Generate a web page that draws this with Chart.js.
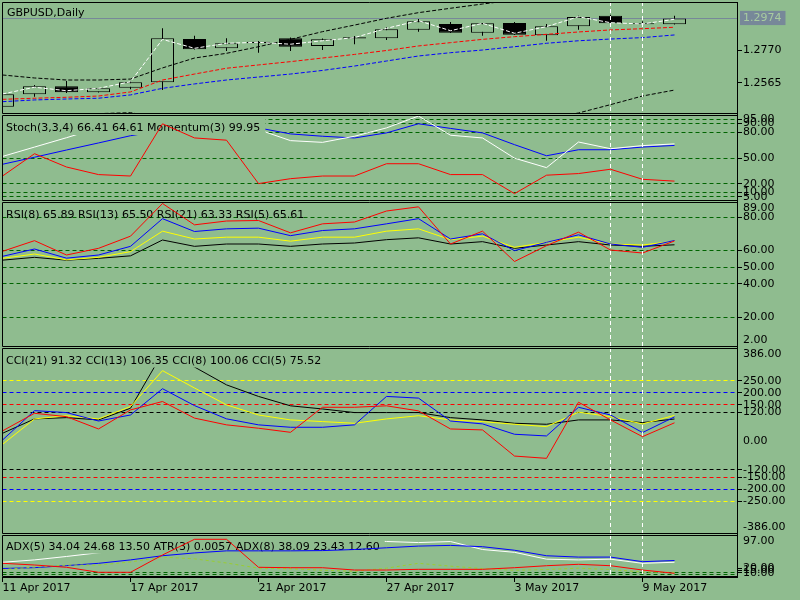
<!DOCTYPE html>
<html><head><meta charset="utf-8">
<script src="https://cdn.jsdelivr.net/npm/chart.js@4.4.1/dist/chart.umd.min.js"></script>
<style>
html,body{margin:0;padding:0;background:#8FBC8F;width:800px;height:600px;overflow:hidden}
canvas{position:absolute;left:0}
</style></head><body>
<canvas id="c0" width="800" height="134" style="top:-10px"></canvas>
<canvas id="c1" width="800" height="106" style="top:105px"></canvas>
<canvas id="c2" width="800" height="165" style="top:192px"></canvas>
<canvas id="c3" width="800" height="206" style="top:338px"></canvas>
<canvas id="c4" width="800" height="75" style="top:525px"></canvas>
<script>
// ---------------- data ----------------
const dates = ['11 Apr 2017','12 Apr 2017','13 Apr 2017','14 Apr 2017','17 Apr 2017','18 Apr 2017','19 Apr 2017','20 Apr 2017','21 Apr 2017','24 Apr 2017','25 Apr 2017','26 Apr 2017','27 Apr 2017','28 Apr 2017','1 May 2017','2 May 2017','3 May 2017','4 May 2017','5 May 2017','8 May 2017','9 May 2017','10 May 2017'];
const xLabelIdx = [0, 4, 8, 12, 16, 20];
const markerIdx = [19, 20];

const opens  = [1.2412,1.2491,1.2542,1.2504,1.2533,1.2567,1.2843,1.2784,1.2826,1.2848,1.2799,1.2855,1.2848,1.2902,1.2939,1.2883,1.2945,1.2867,1.2924,1.2992,1.2943,1.2937];
const highs  = [1.2495,1.2550,1.2576,1.2531,1.2576,1.2911,1.2864,1.2848,1.2831,1.2852,1.2846,1.2862,1.2918,1.2971,1.2952,1.2945,1.2952,1.2939,1.2992,1.2998,1.2956,1.2992];
const lows   = [1.2405,1.2476,1.2499,1.2502,1.2523,1.2518,1.2776,1.2767,1.2756,1.2767,1.2773,1.2809,1.2837,1.2890,1.2881,1.2864,1.2868,1.2832,1.2902,1.2941,1.2926,1.2935];
const closes = [1.2491,1.2542,1.2504,1.2529,1.2567,1.2848,1.2778,1.2816,1.2816,1.2794,1.2841,1.2847,1.2905,1.2956,1.2883,1.2943,1.2871,1.2924,1.2983,1.2943,1.2937,1.2974];

const fastLine  = [1.2493,1.2536,1.2514,1.2529,1.2571,1.2841,1.2784,1.2816,1.2822,1.2810,1.2832,1.2852,1.2911,1.2960,1.2896,1.2943,1.2880,1.2922,1.2985,1.2947,1.2939,1.2969];
const maRed     = [1.2459,1.2466,1.2472,1.2480,1.2506,1.2582,1.2620,1.2657,1.2678,1.2699,1.2722,1.2745,1.2770,1.2799,1.2820,1.2841,1.2858,1.2873,1.2888,1.2901,1.2909,1.2918];
const maBlue    = [1.2444,1.2455,1.2461,1.2466,1.2487,1.2529,1.2557,1.2582,1.2601,1.2620,1.2643,1.2671,1.2703,1.2735,1.2756,1.2773,1.2794,1.2816,1.2832,1.2843,1.2852,1.2869];
const bandUpper = [1.2614,1.2595,1.2582,1.2582,1.2588,1.2659,1.2722,1.2752,1.2794,1.2841,1.2890,1.2932,1.2975,1.3011,1.3039,1.3066,1.3092,1.3108,1.3122,1.3133,1.3140,1.3146];
const bandLower = [1.2355,1.2360,1.2365,1.2368,1.2374,1.2340,1.2310,1.2290,1.2280,1.2270,1.2265,1.2262,1.2255,1.2250,1.2260,1.2280,1.2305,1.2338,1.2372,1.2425,1.2480,1.2518];
const priceTicks = [1.2770, 1.2565];

const stochMain   = [51.8,62.7,73.6,85,88,97,95,92,83,70.2,68.2,75.3,85,98.8,76.5,73.3,49.8,38.8,68.6,60.8,64.4,66.41];
const stochSignal = [42.7,50.9,59.3,67.5,75.9,82,88,90,85,78,75.3,73.3,79.2,89.8,84.4,79.2,65.5,52.6,59.6,59.6,62.7,64.61];
const momentum    = [100.20,101.29,100.64,100.27,100.20,102.75,102.06,101.95,99.83,100.07,100.20,100.20,100.80,100.80,100.27,100.27,99.34,100.24,100.32,100.53,100.04,99.95];
const stochLevels = [95, 90, 80, 50, 20, 10, 5];

const rsi5  = [59.4,65.8,57.2,61.2,68.5,88.1,75.3,77.6,77.9,70.5,75.9,77.0,83.6,86.1,63.8,71.5,53.3,62.8,70.9,60.2,58.4,65.61];
const rsi8  = [56.4,60.8,55.3,57.2,62.4,79.0,71.3,72.9,73.3,68.8,71.9,72.9,75.9,79.0,66.8,69.9,59.8,64.8,69.3,63.8,61.8,65.89];
const rsi13 = [55.2,57.8,54.3,55.8,59.2,71.5,66.8,67.9,67.9,65.5,67.9,67.9,71.5,72.9,66.4,68.5,61.8,64.8,67.9,63.8,63.2,65.50];
const rsi21 = [54.1,55.8,54.1,55.2,56.7,66.2,62.4,63.8,63.8,62.4,63.8,64.4,66.4,67.5,63.8,65.2,61.2,63.2,65.2,63.2,62.4,63.33];
const rsiLevels = [80, 60, 50, 40, 20];

const cci21 = [32,91.7,97,87.5,136,365,307,233,185,146,133,118,118,118,97,87.5,73.6,69.4,87.5,87.5,76.4,91.32];
const cci13 = [-14,91.7,105,91.7,143,292,220,150,108,87.5,80.6,73.6,91.7,105,87.5,80.6,69.4,59.7,119.6,101,70.8,106.35];
const cci8  = [4,126,118,83,108,217,147,92,67,57,57,67,185,178,83,71,28,21,140,108,35,100.06];
const cci5  = [42,115,101,50,129,164,95,67,53,36,140,140,146,125,50,46,-62.5,-72,161,87.5,18,75.52];
const cciLevels = [250, 200, 150, 120, -120, -150, -200, -250];

const adx5  = [34,39.5,47.4,56,62,72,84,92,97,95,91,86,82,79.5,81.9,63.5,57,41.2,39.5,41.2,31.6,34.04];
const adx8  = [19.6,21.6,26.3,31.6,39.5,49.1,55.6,60.4,60.4,60.4,61,63.5,67.5,71.4,73,70,61.8,49.1,46,46,35.4,38.09];
const adxDI = [17,23,27.5,27.5,34.7,46,42,32.3,20.4,19,15.6,13.2,20.4,31.6,25,19.6,15.6,17.2,20.4,17.2,11.5,10.8];
const atr3  = [0.00956,0.00890,0.00802,0.00609,0.00609,0.01276,0.01881,0.01881,0.00802,0.00786,0.00786,0.00697,0.00697,0.00724,0.00724,0.00724,0.00786,0.00863,0.00917,0.00863,0.00697,0.0057];
const adx5Di = [24.68, 13.50];
const adx8Di = [23.43, 12.60];
const adxTickLabels = [20, 15, 10];
const adxLevels = [11.5, 5.5];

// ---------------- style ----------------
const BG = '#8FBC8F', GREEN = '#006400';
const FONT_CSS = '11px "DejaVu Sans"';
const cciColor = {250: '#FFFF00', 200: '#0000FF', 150: '#FF0000', 120: '#000000'};
Chart.defaults.font.family = '"DejaVu Sans"';
Chart.defaults.font.size = 11;
Chart.defaults.color = '#000';
Chart.defaults.animation = false;
Chart.defaults.elements.point.radius = 0;
Chart.defaults.elements.point.hoverRadius = 0;
Chart.defaults.elements.line.borderWidth = 1;
Chart.defaults.elements.line.tension = 0;
Chart.defaults.plugins.legend.display = false;
Chart.defaults.plugins.tooltip.enabled = false;

const LEFT = 2.5, RIGHT = 737, SLOT = 32;
const XMAX = (RIGHT - LEFT) / SLOT;
const pts = arr => arr.map((v, i) => ({x: i, y: v}));
const last = a => a[a.length - 1];

function xAxis(show) {
  const ax = {
    type: 'linear', min: 0, max: XMAX, display: show, offset: false,
    afterBuildTicks: s => { s.ticks = xLabelIdx.map(v => ({value: v})); },
    ticks: {autoSkip: false, maxRotation: 0, minRotation: 0, align: 'start', padding: 0,
            callback: v => dates[v] || ''},
    grid: {offset: false, drawOnChartArea: false, drawTicks: true, tickLength: 5, tickColor: '#000', color: '#000'},
    border: {display: true, color: '#000', width: 1}
  };
  if (show) ax.afterFit = s => { s.height = 20; };
  return ax;
}
function levelAxis(specs, min, max, dashed) {
  const sp = i => specs[i] || {};
  return {
    type: 'linear', position: 'right', min, max,
    afterFit: s => { s.width = 800 - RIGHT; },
    afterBuildTicks: s => { s.ticks = specs.map(t => ({value: t.v})); },
    ticks: {
      autoSkip: false, padding: 1,
      callback: (v, i) => sp(i).text || '',
      color: c => sp(c.index).color || '#000',
      showLabelBackdrop: c => !!sp(c.index).box,
      backdropColor: '#778899',
      backdropPadding: {left: 3, right: 4, top: 1, bottom: 0}
    },
    grid: {
      color: c => sp(c.index).line || 'rgba(0,0,0,0)',
      tickColor: c => sp(c.index).mark ? '#000' : 'rgba(0,0,0,0)',
      tickLength: 5, lineWidth: 1, drawTicks: true
    },
    border: {color: '#000', width: 1, dash: dashed ? [4, 3] : []}
  };
}
function edgeSpecs(min, max, px, topText, bottomText) {
  const off = 6.5 * (max - min) / px, out = [];
  if (topText) out.push({v: max - off, text: topText});
  if (bottomText) out.push({v: min + off, text: bottomText});
  return out;
}
function panePlugin(p) {
  const drawLabel = chart => {
    const {ctx, chartArea: a} = chart;
    ctx.save();
    ctx.font = FONT_CSS;
    const ty = p.baseline - p.canvasTop;
    const w = ctx.measureText(p.text).width;
    if (p.box) {
      ctx.fillStyle = BG;
      ctx.fillRect(a.left, a.top, p.x + w + 5 - a.left, ty + 4 - a.top);
    }
    ctx.fillStyle = '#000';
    ctx.textBaseline = 'alphabetic';
    ctx.textAlign = 'left';
    ctx.fillText(p.text, p.x, ty);
    ctx.restore();
  };
  return {
    id: 'pane',
    beforeDatasetsDraw(chart) { if (p.mode === 'under') drawLabel(chart); },
    afterDatasetDraw(chart, args) { if (p.mode === 'after' && args.index === p.afterIndex) drawLabel(chart); },
    afterDatasetsDraw(chart) {
      if (p.mode === 'top') drawLabel(chart);
      const {ctx, chartArea: a, scales: {x}} = chart;
      ctx.save();
      ctx.beginPath(); ctx.rect(a.left, a.top, a.right - a.left, a.bottom - a.top); ctx.clip();
      ctx.strokeStyle = '#fff'; ctx.lineWidth = 1; ctx.setLineDash([4, 3]);
      markerIdx.forEach(i => {
        const px = Math.round(x.getPixelForValue(i) - 0.5) + 0.5;
        ctx.beginPath(); ctx.moveTo(px, a.top); ctx.lineTo(px, a.bottom); ctx.stroke();
      });
      ctx.restore();
    },
    afterDraw(chart) {
      const {ctx, chartArea: a} = chart;
      ctx.save(); ctx.strokeStyle = '#000'; ctx.lineWidth = 1; ctx.setLineDash([]);
      const L = Math.floor(a.left) + 0.5, T = Math.round(a.top) + 0.5, B = Math.round(a.bottom) - 0.5, R = a.right;
      ctx.beginPath(); ctx.moveTo(R, T); ctx.lineTo(L, T); ctx.lineTo(L, B); ctx.lineTo(R, B); ctx.stroke();
      ctx.restore();
    }
  };
}
function baseOptions(padTop, padBottom, scales) {
  return {responsive: false, animation: false,
          layout: {padding: {left: LEFT, right: 0, top: padTop, bottom: padBottom}},
          scales};
}
const dash = [4, 2];

// ---------------- main pane ----------------
const priceSpecs = [{v: last(closes), text: last(closes).toFixed(4), line: '#778899', box: true, color: '#a8cca0'}]
  .concat(priceTicks.map(v => ({v, text: v.toFixed(4), mark: true})));
new Chart(document.getElementById('c0'), {
  type: 'bar',
  data: {datasets: [
    {type: 'line', data: pts(fastLine), borderColor: '#FFFFFF', borderDash: dash},
    {type: 'line', data: pts(maRed), borderColor: '#FF0000', borderDash: dash},
    {type: 'line', data: pts(maBlue), borderColor: '#0000FF', borderDash: dash},
    {type: 'line', data: pts(bandUpper), borderColor: '#000000', borderDash: dash},
    {type: 'line', data: pts(bandLower), borderColor: '#000000', borderDash: dash},
    {type: 'bar', data: opens.map((o, i) => ({x: i, y: [o, closes[i]]})),
     backgroundColor: opens.map((o, i) => closes[i] >= o ? BG : '#000'),
     borderColor: '#000', borderWidth: 1, borderSkipped: false, barThickness: 23, grouped: false, inflateAmount: 0},
    {type: 'bar', data: lows.map((l, i) => ({x: i, y: [l, highs[i]]})),
     backgroundColor: '#000', borderWidth: 0, barThickness: 1, grouped: false, inflateAmount: 0}
  ]},
  options: baseOptions(12, 10, {x: xAxis(false), y: levelAxis(priceSpecs, 1.23655, 1.30789, false)}),
  plugins: [panePlugin({text: 'GBPUSD,Daily', x: 7, baseline: 16, canvasTop: -10, mode: 'top'})]
});

// ---------------- stochastic / momentum ----------------
const stochSpecs = stochLevels.map(v => ({v, text: v.toFixed(2), mark: true, line: GREEN}));
new Chart(document.getElementById('c1'), {
  type: 'line',
  data: {datasets: [
    {data: pts(momentum), borderColor: '#FF0000', yAxisID: 'ym'},
    {data: pts(stochMain), borderColor: '#FFFFFF', yAxisID: 'y'},
    {data: pts(stochSignal), borderColor: '#0000FF', yAxisID: 'y'}
  ]},
  options: baseOptions(10, 10, {x: xAxis(false), y: levelAxis(stochSpecs, 0, 100, true),
    ym: {type: 'linear', axis: 'y', position: 'right', display: false, min: 98.98, max: 103.18}}),
  plugins: [panePlugin({text: `Stoch(3,3,4) ${last(stochMain).toFixed(2)} ${last(stochSignal).toFixed(2)} Momentum(3) ${last(momentum).toFixed(2)}`,
    x: 6, baseline: 131, canvasTop: 105, mode: 'after', afterIndex: 1, box: true})]
});

// ---------------- RSI ----------------
const rsiSpecs = edgeSpecs(2, 89, 145, '89.00', '2.00')
  .concat(rsiLevels.map(v => ({v, text: v.toFixed(2), mark: true, line: GREEN})));
new Chart(document.getElementById('c2'), {
  type: 'line',
  data: {datasets: [
    {data: pts(rsi5), borderColor: '#FF0000'},
    {data: pts(rsi8), borderColor: '#0000FF'},
    {data: pts(rsi13), borderColor: '#FFFF00'},
    {data: pts(rsi21), borderColor: '#000000'}
  ]},
  options: baseOptions(10, 10, {x: xAxis(false), y: levelAxis(rsiSpecs, 2, 89, true)}),
  plugins: [panePlugin({text: `RSI(8) ${last(rsi8).toFixed(2)} RSI(13) ${last(rsi13).toFixed(2)} RSI(21) ${last(rsi21).toFixed(2)} RSI(5) ${last(rsi5).toFixed(2)}`,
    x: 6, baseline: 218, canvasTop: 192, mode: 'under'})]
});

// ---------------- CCI ----------------
const cciSpecs = edgeSpecs(-386, 386, 186, '386.00', '-386.00')
  .concat([{v: 0, text: '0.00'}])
  .concat(cciLevels.map(v => ({v, text: v.toFixed(2), mark: true, line: cciColor[Math.abs(v)]})));
new Chart(document.getElementById('c3'), {
  type: 'line',
  data: {datasets: [
    {data: pts(cci5), borderColor: '#FF0000'},
    {data: pts(cci8), borderColor: '#0000FF'},
    {data: pts(cci13), borderColor: '#FFFF00'},
    {data: pts(cci21), borderColor: '#000000'}
  ]},
  options: baseOptions(10, 10, {x: xAxis(false), y: levelAxis(cciSpecs, -386, 386, true)}),
  plugins: [panePlugin({text: `CCI(21) ${last(cci21).toFixed(2)} CCI(13) ${last(cci13).toFixed(2)} CCI(8) ${last(cci8).toFixed(2)} CCI(5) ${last(cci5).toFixed(2)}`,
    x: 6, baseline: 363.5, canvasTop: 338, mode: 'top', box: true})]
});

// ---------------- ADX / ATR ----------------
const adxSpecs = edgeSpecs(0, 97, 42, '97.00', null)
  .concat(adxTickLabels.map(v => ({v, text: v.toFixed(2), mark: true})))
  .concat(adxLevels.map(v => ({v, text: '', line: GREEN})));
new Chart(document.getElementById('c4'), {
  type: 'line',
  data: {datasets: [
    {data: pts(atr3), borderColor: '#FF0000', yAxisID: 'ya'},
    {data: pts(adxDI), borderColor: '#9ACD32', borderDash: [3, 3], yAxisID: 'y'},
    {data: pts(adx8), borderColor: '#0000FF', yAxisID: 'y'},
    {data: pts(adx5), borderColor: '#FFFFFF', yAxisID: 'y'}
  ]},
  options: baseOptions(10, 3, {x: xAxis(true), y: levelAxis(adxSpecs, 0, 97, true),
    ya: {type: 'linear', axis: 'y', position: 'right', display: false, min: 0.00428, max: 0.02046}}),
  plugins: [panePlugin({text: `ADX(5) ${last(adx5).toFixed(2)} ${adx5Di[0].toFixed(2)} ${adx5Di[1].toFixed(2)} ATR(3) ${last(atr3).toFixed(4)} ADX(8) ${last(adx8).toFixed(2)} ${adx8Di[0].toFixed(2)} ${adx8Di[1].toFixed(2)}`,
    x: 6, baseline: 549.5, canvasTop: 525, mode: 'after', afterIndex: 3, box: true})]
});
</script>
</body></html>
